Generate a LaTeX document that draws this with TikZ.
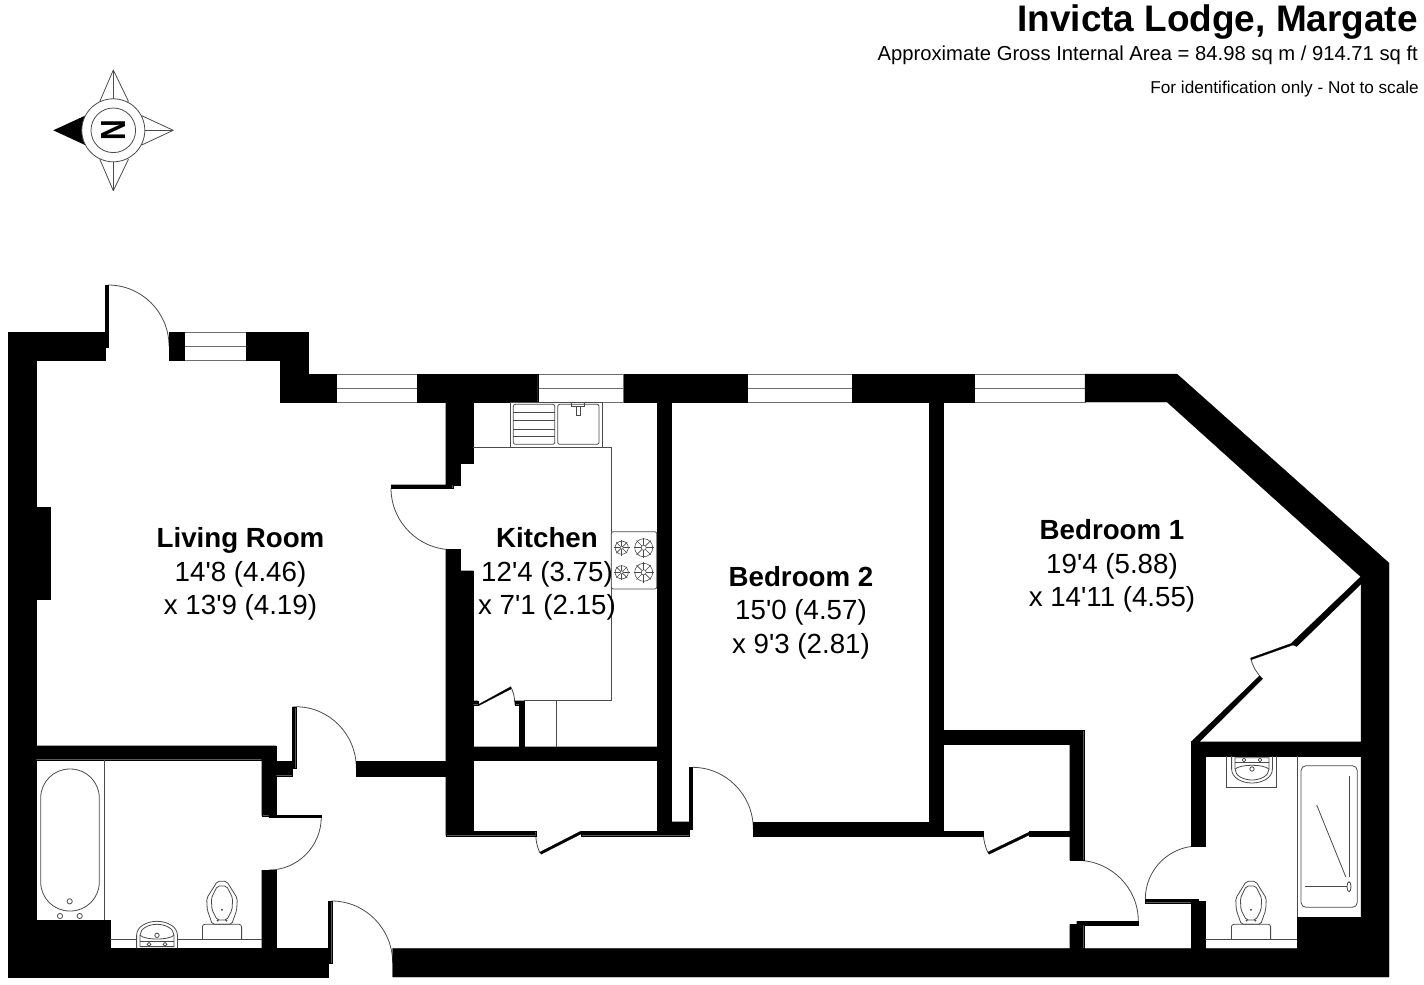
\documentclass[tikz,border=0pt]{standalone}
\usepackage{fontspec}
\usetikzlibrary{calc}
\newfontfamily\lab{Liberation Sans}
\definecolor{fixc}{HTML}{4A4A4A}
\definecolor{winc}{HTML}{6E6E6E}
\tikzset{
  wall/.style={fill=black,draw=black,line width=.2pt},
  win/.style={fill=white,draw=winc,line width=.9pt},
  fix/.style={draw=fixc,line width=.8pt},
  swing/.style={draw=fixc,line width=.8pt},
  leaf/.style={fill=black},
  room/.style={font=\lab\fontsize{27.8}{33.5}\selectfont,align=center,inner sep=0pt,text=black},
}
\newcommand\darc[3]{\draw[swing] #1 .. controls ($#1+.5523*#2-.5523*#3$) and ($#2+.5523*#1-.5523*#3$) .. #2;}
\newcommand\winbox[4]{\draw[win] (#1,#2) rectangle (#3,#4); \draw[win] (#1,{(#2+#4)/2}) -- (#3,{(#2+#4)/2});}
\newcommand\burner[3]{\begin{scope}[shift={(#1,#2)}]
  \draw[fix,line width=.6pt] (0,0) circle[radius=#3];
  \draw[fix,line width=.6pt] (0,0) circle[radius=#3*.28];
  \foreach \a in {0,45,...,315}{\draw[fix,line width=.6pt] (\a:#3*.28) -- (\a:#3+1.2);}
\end{scope}}
\newcommand\toilet[1]{\begin{scope}[shift={(#1,881.3)}]
  \draw[fix,rounded corners=2] (-4.7,0) -- (4.7,0) -- (15.3,17) -- (14.7,28.7) -- (9.7,43) -- (-9.7,43) -- (-14.7,28.7) -- (-15.3,17) -- cycle;
  \draw[fix,rounded corners=2] (-4.7,4.7) -- (4.7,4.7) -- (10.7,17) -- (10,28.7) -- (4.7,38.7) -- (-4.7,38.7) -- (-10,28.7) -- (-10.7,17) -- cycle;
  \fill[fixc] (0,28.4) circle[radius=1.1] (-4.3,39.3) circle[radius=1.1] (4.3,39.3) circle[radius=1.1];
  \draw[fix,rounded corners=2.5] (-19.6,58) -- (-19.6,43) -- (19.6,43) -- (19.6,58);
\end{scope}}
\newcommand\basin[3]{\begin{scope}[shift={(#1,#2)},yscale=#3]
  \draw[fix] (-20.4,0) -- (-20.4,-13) .. controls (-20.4,-22) and (-10,-27) .. (0,-27) .. controls (10,-27) and (20.4,-22) .. (20.4,-13) -- (20.4,0);
  \draw[fix] (-17,-1.7) -- (-17,-13) .. controls (-17,-20) and (-8,-24) .. (0,-24) .. controls (8,-24) and (17,-20) .. (17,-13) -- (17,-1.7) -- cycle;
  \draw[fix] (-17,-13) .. controls (-11,-8) and (11,-8) .. (17,-13);
  \draw[fix] (-17,-6.7) -- (17,-6.7);
  \draw[fix] (0,-13) circle[radius=2.2] (-8,-4) circle[radius=1.9] (8,-4) circle[radius=1.9];
\end{scope}}
\begin{document}
\begin{tikzpicture}[x=1bp,y=-1bp]
\useasboundingbox (0,0) rectangle (1424,984);
\fill[white] (0,0) rectangle (1424,984);
% windows
\winbox{184}{332}{246}{360}
\winbox{336}{374}{417.5}{402}
\winbox{537.7}{374}{623.7}{402}
\winbox{747}{374}{852}{402}
\winbox{974}{374}{1085}{402}
% door swings
\darc{(108,285)}{(169,346)}{(108,346)}
\darc{(391,488)}{(452.7,549.7)}{(452.7,488)}
\darc{(295.7,706.7)}{(356.3,768)}{(295.7,768)}
\darc{(321.3,817)}{(268.7,870)}{(268.7,817)}
\darc{(331.7,901)}{(392.7,963)}{(331.7,963)}
\darc{(692.3,767.3)}{(753.3,829)}{(692.3,829)}
\darc{(1076.7,860.3)}{(1138.3,921)}{(1076.7,921)}
\darc{(1145.3,899)}{(1198.3,846)}{(1198.3,899)}
\draw[swing] (510.7,686.7) .. controls (513,691) and (514.5,696) .. (514.7,702);
\draw[swing] (535.7,833) .. controls (535.7,840) and (537,847) .. (540,853);
\draw[swing] (983.3,833) .. controls (983.5,840) and (985,847) .. (988.3,853.3);
\draw[swing] (1251,658.7) .. controls (1252,665) and (1256,672) .. (1261,677.3);
% walls
\fill[wall] (105,285) -- (108,285) -- (108,347) -- (105,347) -- (105,360) -- (36,360) -- (36,507) -- (50,507) -- (50,599.3) -- (36,599.3) -- (36,745.7) -- (276,745.7) -- (276,761) -- (292.5,761) -- (292.5,706.7) -- (295.7,706.7) -- (295.7,768) -- (292.5,768) -- (292.5,775.7) -- (276,775.7) -- (276,815) -- (321.3,815) -- (321.3,817.3) -- (268.7,817.3) -- (268.7,815.7) -- (261.7,815.7) -- (261.7,759.7) -- (36,759.7) -- (36,920.3) -- (110.3,920.3) -- (110.3,948.3) -- (261.7,948.3) -- (261.7,870) -- (276,870) -- (276,948.3) -- (328.5,948.3) -- (328.5,901) -- (331.7,901) -- (331.7,963) -- (328.3,963) -- (328.3,977) -- (8,977) -- (8,332) -- (105,332) -- cycle;
\fill[wall] (169,332) rectangle (184,360);
\fill[wall] (246,332) -- (308,332) -- (308,374) -- (336,374) -- (336,402) -- (280,402) -- (280,360) -- (246,360) -- cycle;
\fill[wall] (417.5,374) -- (537.7,374) -- (537.7,402) -- (473.3,402) -- (473.3,463.3) -- (460,463.3) -- (460,485) -- (452.7,485) -- (452.7,488) -- (391,488) -- (391,484.7) -- (445.7,484.7) -- (445.7,402) -- (417.5,402) -- cycle;
\fill[wall] (623.7,374) rectangle (747,402);
\fill[wall] (852,374) rectangle (974,402);
\fill[wall] (1085,374) -- (1177,374) -- (1389,563) -- (1389,977) -- (392.7,977) -- (392.7,948.3) -- (1361,948.3) -- (1361,577) -- (1167,402) -- (1085,402) -- cycle;
\fill[wall] (445.7,549.5) -- (460,549.5) -- (460,570.7) -- (473.3,570.7) -- (473.3,700.7) -- (478,700.7) -- (478,704.7) -- (473.3,704.7) -- (473.3,746.7) -- (519,746.7) -- (519,704.7) -- (514.7,704.7) -- (514.7,700.7) -- (524,700.7) -- (524,746.7) -- (657,746.7) -- (657,402) -- (671.3,402) -- (671.3,821.7) -- (689,821.7) -- (689,767.3) -- (692.3,767.3) -- (692.3,829) -- (689,829) -- (689,835.7) -- (581,835.7) -- (581,831) -- (657,831) -- (657,760) -- (473.3,760) -- (473.3,831) -- (535.7,831) -- (535.7,835.7) -- (445.7,835.7) -- cycle;
\fill[wall] (478,704.7) -- (510.7,686.7) -- (511,689) -- (479,705.5) -- cycle;
\fill[wall] (581,831) -- (540,852) -- (541,854.3) -- (581,834) -- cycle;
\fill[wall] (356.3,761) rectangle (445.7,775.7);
\fill[wall] (753.3,821.7) rectangle (943.3,835.7);
\fill[wall] (929.3,402) rectangle (943.3,836);
\fill[wall] (943.3,730) -- (1083.7,730) -- (1083.7,860.3) -- (1069.7,860.3) -- (1069.7,836) -- (1029.3,836) -- (1029.3,831) -- (1069.7,831) -- (1069.7,744) -- (943.3,744) -- cycle;
\fill[wall] (943.3,831) -- (983.3,831) -- (983.3,836) -- (943.3,836) -- cycle;
\fill[wall] (1029.3,832) -- (988,852) -- (989,854.3) -- (1029.3,835) -- cycle;
\fill[wall] (1069.7,924.3) -- (1076.7,924.3) -- (1076.7,921) -- (1138.3,921) -- (1138.3,925) -- (1083.7,925) -- (1083.7,948.5) -- (1069.7,948.5) -- cycle;
\fill[wall] (1191,948.5) -- (1191,902) -- (1198.3,902) -- (1198.3,902.7) -- (1145.3,902.7) -- (1145.3,899) -- (1198.3,899) -- (1198.3,901) -- (1205.3,901) -- (1205.3,948.5) -- cycle;
\fill[wall] (1191,846) -- (1191,741.7) -- (1361.5,741.7) -- (1361.5,756) -- (1205.3,756) -- (1205.3,846) -- cycle;
\fill[wall] (1297,916.7) rectangle (1361.5,948.5);
\fill[wall] (1191,742) -- (1259.3,676) -- (1262.7,678.7) -- (1199.3,742) -- cycle;
\fill[wall] (1361.5,576) -- (1361.5,583.5) -- (1296.7,646.5) -- (1293,645) -- (1251,659.8) -- (1250.6,658) -- (1291,643.5) -- cycle;
% kitchen
\draw[fix] (473.3,447.3) -- (611.3,447.3) -- (611.3,700.7) -- (524,700.7);
\draw[fix] (556,700.7) -- (556,746.7);
\draw[fix] (510,402) rectangle (602,447.3);
\draw[fix,rounded corners=2] (513.3,404.3) rectangle (554.7,444.3);
\draw[fix,rounded corners=2] (557.7,404.3) rectangle (599,444.3);
\foreach \yy in {412.7,420.7,429,436.7}{\draw[fix] (513.3,\yy) -- (554.7,\yy);}
\draw[fix] (571.7,402) rectangle (584.3,406.7);
\draw[fix] (576,406.7) -- (576,415) -- (580,415) -- (580,406.7);
\draw[fix,rounded corners=2,fill=white] (611.3,531.7) rectangle (656.7,589);
\burner{621.7}{547.7}{6.6}
\burner{643.7}{547.7}{9}
\burner{621.7}{572.3}{6.6}
\burner{643.7}{572.3}{9}
% left bathroom
\draw[fix] (104.3,759.7) -- (104.3,920.3);
\draw[fix,rounded corners=29] (40.7,769) rectangle (99.3,911);
\draw[fix] (69.7,901.3) circle[radius=2.6] (60,916) circle[radius=2.6] (79.7,916) circle[radius=2.6];
\draw[fix] (110.3,939.3) -- (261.7,939.3);
\fill[white] (137,939) rectangle (177.5,948);
\basin{157}{948.3}{1}
\toilet{222}
% right bathroom
\draw[fix] (1205.3,939.3) -- (1297,939.3);
\toilet{1251}
\draw[fix] (1226,756) -- (1226,787.3) -- (1276.7,787.3) -- (1276.7,756);
\basin{1252}{756}{-1}
\draw[fix] (1297.7,756) -- (1297.7,916.7);
\draw[fix,rounded corners=5] (1301,765.7) rectangle (1357.3,907.3);
\draw[fix] (1349,776) -- (1349,876.7);
\draw[fix] (1316.7,805) -- (1345.7,876.7);
\draw[fix] (1305,886.7) -- (1346.7,886.7);
\draw[fix] (1349,886.7) ellipse[x radius=2,y radius=5];
% compass
\draw[fix,line join=round] (113.3,70) -- (128.3,101) -- (113.3,130) -- (100,101) -- cycle;
\draw[fix] (113.3,70) -- (113.3,130);
\draw[fix,line join=round] (113.3,190.7) -- (128.3,159.6) -- (113.3,130) -- (100,159.6) -- cycle;
\draw[fix] (113.3,190.7) -- (113.3,130);
\draw[fix,line join=round] (173.3,130.3) -- (141.7,115.7) -- (141.7,145) -- cycle;
\draw[fix] (141.7,130.3) -- (173.3,130.3);
\fill[black] (53.3,130.3) -- (85,115.7) -- (85,145) -- cycle;
\draw[fix,fill=white] (113.3,130.3) circle[radius=31.5];
\draw[fix] (113.3,130.3) circle[radius=22.3];
\node[inner sep=0pt,rotate=90] (north) at (113.3,130.3) {\scalebox{.82}[1]{\lab\bfseries\fontsize{35}{35}\selectfont N}};
% titles
\node[anchor=base east,inner sep=0pt,font=\lab\bfseries\fontsize{37.1}{37.1}\selectfont] (title) at (1418,31) {Invicta Lodge, Margate};
\node[anchor=base east,inner sep=0pt,font=\lab\fontsize{20.3}{20.3}\selectfont] (area) at (1418,60) {Approximate Gross Internal Area = 84.98 sq m / 914.71 sq ft};
\node[anchor=base east,inner sep=0pt,font=\lab\fontsize{17.25}{17.25}\selectfont] (note) at (1419,93) {For identification only - Not to scale};
% rooms
\node[room] (living) at (240.5,574) {\textbf{Living Room}\\14'8 (4.46)\\x 13'9 (4.19)};
\node[room] (kitchen) at (547,574) {\textbf{Kitchen}\\12'4 (3.75)\\x 7'1 (2.15)};
\node[room] (bed2) at (801,612.5) {\textbf{Bedroom 2}\\15'0 (4.57)\\x 9'3 (2.81)};
\node[room] (bed1) at (1112,566) {\textbf{Bedroom 1}\\19'4 (5.88)\\x 14'11 (4.55)};
\end{tikzpicture}
\end{document}
